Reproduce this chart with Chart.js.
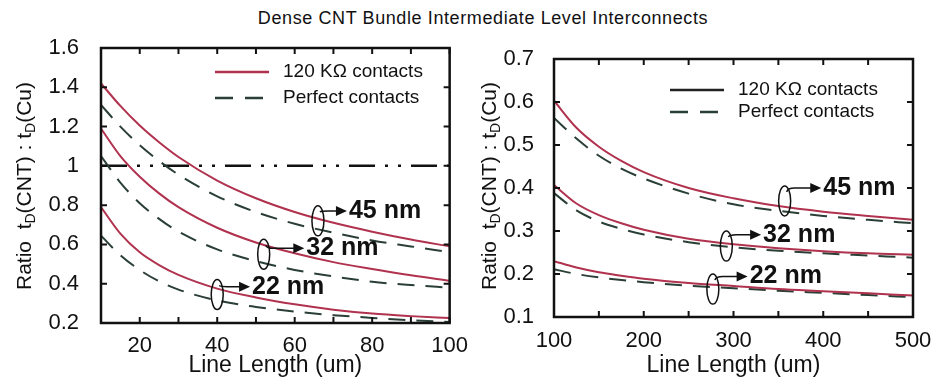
<!DOCTYPE html>
<html>
<head>
<meta charset="utf-8">
<script src="https://cdn.jsdelivr.net/npm/chart.js@4.4.1/dist/chart.umd.min.js"></script>
<style>
  body { margin: 0; background: #fff; }
  #page { position: relative; width: 939px; height: 379px; overflow: hidden; }
  #title { position: absolute; left: 0; width: 966px; top: 8px; text-align: center;
           font: 18px "Liberation Sans", Arial, sans-serif; letter-spacing: 0.6px; color: #111; }
  #left { position: absolute; left: 0; top: 0; }
  #right { position: absolute; left: 470px; top: 0; }
</style>
</head>
<body>
<div id="page">
  <div id="title">Dense CNT Bundle Intermediate Level Interconnects</div>
  <canvas id="left" width="470" height="379"></canvas>
  <canvas id="right" width="469" height="379"></canvas>
</div>
<script>
// Line length (um) and delay ratio values
const leftLength = [10, 15, 20, 25, 30, 40, 50, 60, 70, 80, 90, 100];
const left45Contact = [1.42, 1.305, 1.205, 1.12, 1.045, 0.925, 0.835, 0.765, 0.71, 0.665, 0.625, 0.59];
const left45Perfect = [1.31, 1.20, 1.105, 1.025, 0.955, 0.845, 0.765, 0.705, 0.66, 0.62, 0.59, 0.56];
const left32Contact = [1.19, 1.05, 0.945, 0.86, 0.79, 0.685, 0.61, 0.555, 0.51, 0.475, 0.443, 0.415];
const left32Perfect = [1.05, 0.915, 0.81, 0.73, 0.665, 0.575, 0.515, 0.47, 0.437, 0.41, 0.393, 0.38];
const left22Contact = [0.79, 0.655, 0.56, 0.495, 0.445, 0.375, 0.33, 0.295, 0.268, 0.248, 0.235, 0.225];
const left22Perfect = [0.645, 0.545, 0.47, 0.412, 0.37, 0.315, 0.282, 0.258, 0.24, 0.226, 0.214, 0.205];
// ratio = 1 reference line
const refLength = [10, 100];
const refRatio = [1, 1];

const rightLength = [100, 125, 150, 175, 200, 250, 300, 350, 400, 450, 500];
const right45Contact = [0.603, 0.540, 0.496, 0.463, 0.437, 0.400, 0.376, 0.358, 0.345, 0.335, 0.326];
const right45Perfect = [0.563, 0.515, 0.475, 0.445, 0.422, 0.387, 0.362, 0.347, 0.335, 0.326, 0.318];
const right32Contact = [0.407, 0.364, 0.337, 0.318, 0.303, 0.282, 0.269, 0.260, 0.253, 0.248, 0.245];
const right32Perfect = [0.388, 0.348, 0.322, 0.305, 0.292, 0.274, 0.262, 0.254, 0.248, 0.243, 0.238];
const right22Contact = [0.230, 0.215, 0.204, 0.196, 0.189, 0.179, 0.172, 0.165, 0.160, 0.155, 0.150];
const right22Perfect = [0.211, 0.200, 0.192, 0.186, 0.181, 0.173, 0.167, 0.161, 0.156, 0.151, 0.146];

const legendLabels = ["120 K\u03A9 contacts", "Perfect contacts"];
const nodeLabels = ["45 nm", "32 nm", "22 nm"];

const RED = "#b0324e";
const DARK = "#2a3f36";
const FONT = '"Liberation Sans", Arial, sans-serif';

const toPoints = (xs, ys) => xs.map((x, i) => ({ x: x, y: ys[i] }));

const curve = (xs, ys, dashed) => ({
    data: toPoints(xs, ys),
    borderColor: dashed ? DARK : RED,
    borderWidth: 2,
    borderDash: dashed ? [17, 11] : [],
    pointRadius: 0,
    tension: 0.4,
    cubicInterpolationMode: "monotone",
    fill: false
});

// draws frame, inward ticks, legend, node call-outs and the y title
const decorPlugin = {
    id: "decor",
    afterDatasetsDraw(chart, args, opts) {
        const ctx = chart.ctx;
        const a = chart.chartArea;
        const xs = chart.scales.x, ys = chart.scales.y;
        ctx.save();

        // inward tick marks on all four sides
        ctx.strokeStyle = "#111";
        ctx.lineWidth = 2;
        ctx.beginPath();
        xs.ticks.forEach(t => {
            const px = xs.getPixelForValue(t.value);
            ctx.moveTo(px, a.bottom); ctx.lineTo(px, a.bottom - 6);
            ctx.moveTo(px, a.top); ctx.lineTo(px, a.top + 6);
        });
        ys.ticks.forEach(t => {
            const py = ys.getPixelForValue(t.value);
            ctx.moveTo(a.left, py); ctx.lineTo(a.left + 6, py);
            ctx.moveTo(a.right, py); ctx.lineTo(a.right - 6, py);
        });
        ctx.stroke();
        ctx.lineWidth = 2.5;
        ctx.strokeRect(a.left, a.top, a.right - a.left, a.bottom - a.top);

        // legend
        ctx.font = "19px " + FONT;
        ctx.textBaseline = "middle";
        ctx.fillStyle = "#111";
        const lx = a.left + opts.legend.dx;
        [0, 1].forEach(i => {
            const ly = a.top + opts.legend.dy[i];
            ctx.beginPath();
            ctx.lineWidth = 2.5;
            ctx.strokeStyle = i === 0 ? opts.legend.solidColor : DARK;
            ctx.setLineDash(i === 0 ? [] : [18, 12]);
            ctx.moveTo(lx, ly); ctx.lineTo(lx + 54, ly);
            ctx.stroke();
            ctx.setLineDash([]);
            ctx.fillText(legendLabels[i], lx + 68, ly);
        });

        // call-outs: ellipse round each pair of curves, hooked arrow to the label
        opts.notes.forEach((n, i) => {
            const cx = xs.getPixelForValue(n.x), cy = ys.getPixelForValue(n.y);
            const tx = xs.getPixelForValue(n.lx), ty = ys.getPixelForValue(n.ly);
            ctx.strokeStyle = "#111";
            ctx.lineWidth = 1.5;
            ctx.beginPath();
            ctx.ellipse(cx, cy, 6, 15, 0, 0, Math.PI * 2);
            ctx.stroke();
            ctx.beginPath();
            ctx.moveTo(cx + 2, cy - 9);
            ctx.quadraticCurveTo(cx + 3, ty, cx + 10, ty);
            ctx.lineTo(tx - 10, ty);
            ctx.stroke();
            ctx.fillStyle = "#111";
            ctx.beginPath();
            ctx.moveTo(tx - 2, ty);
            ctx.lineTo(tx - 13, ty - 5);
            ctx.lineTo(tx - 13, ty + 5);
            ctx.closePath();
            ctx.fill();
            ctx.font = "bold 25px " + FONT;
            ctx.textAlign = "left";
            ctx.fillText(nodeLabels[i], tx, ty);
        });

        // rotated y title with subscripts
        const parts = [["Ratio  t", 0], ["D", 1], ["(CNT) : t", 0], ["D", 1], ["(Cu)", 0]];
        const big = "21px " + FONT, small = "14px " + FONT;
        let total = 0;
        parts.forEach(p => { ctx.font = p[1] ? small : big; total += ctx.measureText(p[0]).width; });
        ctx.translate(opts.yTitle.x, opts.yTitle.y);
        ctx.rotate(-Math.PI / 2);
        let pos = -total / 2;
        ctx.textAlign = "left";
        parts.forEach(p => {
            ctx.font = p[1] ? small : big;
            ctx.fillText(p[0], pos, p[1] ? 6 : 0);
            pos += ctx.measureText(p[0]).width;
        });
        ctx.restore();
    }
};

const makeOptions = (c) => ({
    responsive: false,
    animation: false,
    layout: { padding: c.padding },
    plugins: {
        legend: { display: false },
        tooltip: { enabled: false },
        decor: { legend: c.legend, notes: c.notes, yTitle: c.yTitle }
    },
    scales: {
        x: {
            type: "linear",
            min: c.xMin, max: c.xMax,
            afterFit: s => { s.height = c.xHeight; },
            grid: { display: false },
            border: { display: false },
            ticks: {
                stepSize: c.xStep,
                autoSkip: false,
                maxRotation: 0,
                padding: c.xPad,
                color: "#111",
                font: { family: FONT, size: 22 },
                callback: v => (v % c.xLabelEvery === 0 ? String(v) : "")
            },
            title: {
                display: true,
                text: "Line Length (um)",
                color: "#111",
                font: { family: FONT, size: 23 },
                padding: { top: 0, bottom: 0 }
            }
        },
        y: {
            min: c.yMin, max: c.yMax,
            afterFit: s => { s.width = c.yWidth; },
            grid: { display: false },
            border: { display: false },
            ticks: {
                stepSize: c.yStep,
                padding: c.yPad,
                color: "#111",
                font: { family: FONT, size: 22 },
                callback: v => String(Math.round(v * 10) / 10)
            }
        }
    }
});

const leftChart = new Chart(document.getElementById("left"), {
    type: "line",
    data: {
        datasets: [
            curve(leftLength, left45Contact, false),
            curve(leftLength, left45Perfect, true),
            curve(leftLength, left32Contact, false),
            curve(leftLength, left32Perfect, true),
            curve(leftLength, left22Contact, false),
            curve(leftLength, left22Perfect, true),
            {
                data: toPoints(refLength, refRatio),
                borderColor: "#111",
                borderWidth: 2.5,
                borderDash: [26, 10, 3, 10, 3, 10],
                pointRadius: 0,
                fill: false
            }
        ]
    },
    options: makeOptions({
        padding: { left: 0, right: 17, top: 48, bottom: 0 },
        xMin: 10, xMax: 100, xStep: 10, xLabelEvery: 20, xHeight: 56, xPad: 2,
        yMin: 0.2, yMax: 1.6, yStep: 0.2, yWidth: 101, yPad: 14,
        legend: { dx: 114, dy: [24, 50], solidColor: RED },
        notes: [
            { x: 66, y: 0.72, lx: 74, ly: 0.77 },
            { x: 52, y: 0.55, lx: 63, ly: 0.58 },
            { x: 40, y: 0.345, lx: 49, ly: 0.385 }
        ],
        yTitle: { x: 25, y: 186 }
    }),
    plugins: [decorPlugin]
});

const rightChart = new Chart(document.getElementById("right"), {
    type: "line",
    data: {
        datasets: [
            curve(rightLength, right45Contact, false),
            curve(rightLength, right45Perfect, true),
            curve(rightLength, right32Contact, false),
            curve(rightLength, right32Perfect, true),
            curve(rightLength, right22Contact, false),
            curve(rightLength, right22Perfect, true)
        ]
    },
    options: makeOptions({
        padding: { left: 0, right: 26, top: 59, bottom: 0 },
        xMin: 100, xMax: 500, xStep: 50, xLabelEvery: 100, xHeight: 62, xPad: 3,
        yMin: 0.1, yMax: 0.7, yStep: 0.1, yWidth: 84, yPad: 12,
        legend: { dx: 116, dy: [31, 53], solidColor: "#222" },
        notes: [
            { x: 357, y: 0.37, lx: 400, ly: 0.40 },
            { x: 292, y: 0.265, lx: 333, ly: 0.291 },
            { x: 277, y: 0.165, lx: 318, ly: 0.194 }
        ],
        yTitle: { x: 20, y: 186 }
    }),
    plugins: [decorPlugin]
});
</script>
</body>
</html>
